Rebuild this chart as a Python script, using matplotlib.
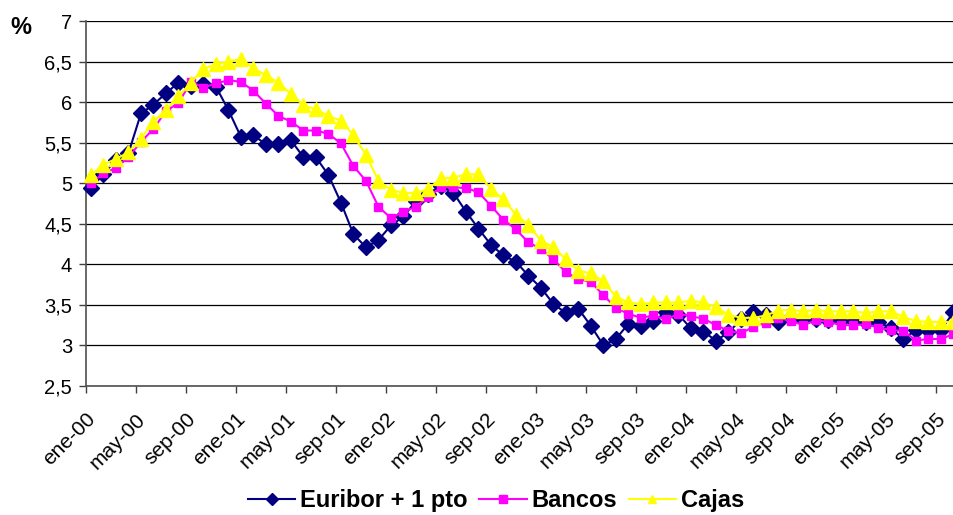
import numpy as np
import matplotlib
matplotlib.use("Agg")
import matplotlib.pyplot as plt

# Monthly rates, ene-00 .. oct-05
euribor = [4.94, 5.11, 5.29, 5.37, 5.86, 5.97, 6.11, 6.24, 6.20, 6.22,
           6.19, 5.90, 5.57, 5.59, 5.48, 5.48, 5.53, 5.32, 5.32, 5.10,
           4.76, 4.37, 4.21, 4.30, 4.48, 4.59, 4.78, 4.87, 4.97, 4.88,
           4.65, 4.44, 4.24, 4.11, 4.03, 3.86, 3.71, 3.51, 3.40, 3.45,
           3.24, 3.00, 3.08, 3.27, 3.24, 3.30, 3.41, 3.38, 3.21, 3.17,
           3.06, 3.16, 3.32, 3.41, 3.37, 3.29, 3.35, 3.32, 3.32, 3.31,
           3.31, 3.31, 3.29, 3.29, 3.21, 3.08, 3.19, 3.19, 3.19, 3.41]

bancos = [5.00, 5.12, 5.19, 5.32, 5.51, 5.67, 5.89, 5.99, 6.25, 6.18,
          6.23, 6.27, 6.25, 6.14, 5.98, 5.83, 5.76, 5.65, 5.65, 5.61,
          5.49, 5.21, 5.03, 4.71, 4.57, 4.65, 4.71, 4.83, 4.95, 4.95,
          4.94, 4.89, 4.72, 4.55, 4.43, 4.27, 4.19, 4.06, 3.90, 3.82,
          3.78, 3.62, 3.46, 3.39, 3.34, 3.37, 3.32, 3.39, 3.36, 3.33,
          3.25, 3.18, 3.15, 3.23, 3.28, 3.34, 3.30, 3.25, 3.31, 3.29,
          3.25, 3.25, 3.26, 3.22, 3.19, 3.18, 3.06, 3.08, 3.08, 3.14]

cajas = [5.10, 5.23, 5.30, 5.38, 5.55, 5.76, 5.90, 6.07, 6.24, 6.41,
         6.47, 6.50, 6.53, 6.42, 6.33, 6.24, 6.10, 5.96, 5.91, 5.83,
         5.77, 5.59, 5.35, 5.03, 4.92, 4.88, 4.88, 4.93, 5.06, 5.07,
         5.11, 5.11, 4.93, 4.80, 4.61, 4.49, 4.29, 4.21, 4.06, 3.92,
         3.89, 3.79, 3.60, 3.53, 3.51, 3.53, 3.53, 3.53, 3.55, 3.53,
         3.47, 3.38, 3.34, 3.34, 3.37, 3.43, 3.44, 3.42, 3.44, 3.42,
         3.42, 3.42, 3.40, 3.42, 3.42, 3.35, 3.30, 3.29, 3.29, 3.29]

month_labels = ["ene-00", "may-00", "sep-00", "ene-01", "may-01", "sep-01",
                "ene-02", "may-02", "sep-02", "ene-03", "may-03", "sep-03",
                "ene-04", "may-04", "sep-04", "ene-05", "may-05", "sep-05"]

y_values = [2.5, 3, 3.5, 4, 4.5, 5, 5.5, 6, 6.5, 7]
y_labels = ["2,5", "3", "3,5", "4", "4,5", "5", "5,5", "6", "6,5", "7"]


def plot_rates():
    plt.rcParams['font.family'] = ['Liberation Sans', 'DejaVu Sans']

    fig = plt.figure(figsize=(9.54, 5.15), dpi=100)
    ax = fig.add_axes([0.0901, 0.2505, 0.9099, 0.7087])

    x = np.arange(len(euribor))
    ax.plot(x, euribor, color="#000080", lw=1.5, marker="D", ms=8.5,
            mec="#000080", label="Euribor + 1 pto", clip_on=False, zorder=3)
    ax.plot(x, bancos, color="#FF00FF", lw=1.5, marker="s", ms=6,
            mec="#FF00FF", label="Bancos", clip_on=False, zorder=4)
    ax.plot(x, cajas, color="#FFFF00", lw=1.5, marker="^", ms=9.5,
            mec="#FFFF00", label="Cajas", clip_on=False, zorder=5)

    ax.set_xlim(-0.4, 69.04)
    ax.set_ylim(2.5, 7)

    ticks = -0.4 + 4 * np.arange(len(month_labels))
    ax.set_xticks(ticks)
    ax.set_xticklabels(month_labels, rotation=45, ha="right",
                       rotation_mode="anchor", fontsize=15)
    ax.set_yticks(y_values)
    ax.set_yticklabels(y_labels, fontsize=14.5)
    ax.tick_params(axis="both", direction="out", length=5, width=1,
                   color="#404040")
    ax.tick_params(axis="y", pad=5)
    ax.tick_params(axis="x", pad=12)

    ax.grid(axis="y", color="black", lw=0.9)
    ax.set_axisbelow(True)
    for side in ("top", "right"):
        ax.spines[side].set_visible(False)
    for side in ("left", "bottom"):
        ax.spines[side].set_color("#505050")
        ax.spines[side].set_linewidth(1.2)

    fig.text(0.022, 0.946, "%", fontsize=17, fontweight="bold",
             ha="center", va="center")

    leg = fig.legend(loc="center", bbox_to_anchor=(0.52, 0.028), ncol=3,
                     frameon=False, handlelength=2.0, handletextpad=0.2,
                     columnspacing=0.5, prop={"weight": "bold", "size": 17})
    for h in leg.legend_handles:
        h.set_markersize(6)

    fig.savefig("out.png", dpi=100)


def main():
    plot_rates()


if __name__ == "__main__":
    main()
